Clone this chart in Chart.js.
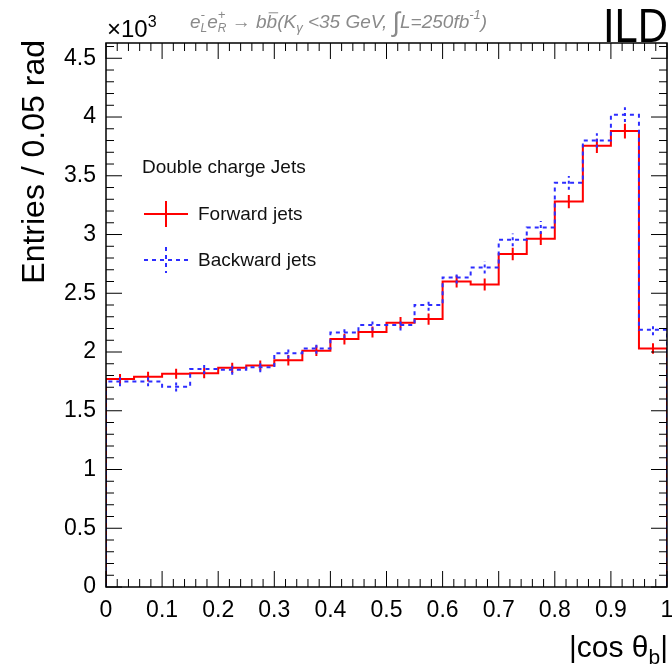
<!DOCTYPE html>
<html><head><meta charset="utf-8">
<script src="https://cdn.jsdelivr.net/npm/chart.js@4"></script>
<style>html,body{margin:0;padding:0;background:#fff;}canvas{display:block;}</style>
</head><body>
<canvas id="c" width="672" height="666"></canvas>
<script>
// ---- data (values in units of 10^3 entries) ----
const binEdges = [0,0.05,0.1,0.15,0.2,0.25,0.3,0.35,0.4,0.45,0.5,0.55,0.6,0.65,0.7,0.75,0.8,0.85,0.9,0.95,1];
const forwardJets  = [1.77,1.79,1.815,1.82,1.865,1.885,1.93,2.01,2.11,2.17,2.25,2.28,2.60,2.575,2.835,2.965,3.28,3.755,3.88,2.03];
const forwardErr   = [0.042,0.042,0.043,0.043,0.043,0.043,0.044,0.045,0.046,0.047,0.047,0.048,0.051,0.051,0.053,0.054,0.057,0.061,0.062,0.045];
const backwardJets = [1.75,1.75,1.705,1.855,1.85,1.87,1.99,2.03,2.165,2.23,2.23,2.40,2.635,2.72,2.955,3.06,3.44,3.80,4.02,2.19];
const backwardErr  = [0.042,0.042,0.041,0.043,0.043,0.043,0.045,0.045,0.047,0.047,0.047,0.049,0.051,0.052,0.054,0.055,0.059,0.062,0.063,0.047];
const xTicks = [0,0.1,0.2,0.3,0.4,0.5,0.6,0.7,0.8,0.9,1];
const xTickLabels = ['0','0.1','0.2','0.3','0.4','0.5','0.6','0.7','0.8','0.9','1'];
const yTicks = [0,0.5,1,1.5,2,2.5,3,3.5,4,4.5];
const yTickLabels = ['0','0.5','1','1.5','2','2.5','3','3.5','4','4.5'];
const yMax = 4.63;
const seriesNames = ['Forward jets','Backward jets'];
const legendTitle = 'Double charge Jets';

const FONT = '"Liberation Sans", Arial, Helvetica, sans-serif';
Chart.defaults.font.family = FONT;

function histPoints(vals){
  const pts=[{x:binEdges[0],y:0}];
  vals.forEach((v,i)=>{pts.push({x:binEdges[i],y:v});pts.push({x:binEdges[i+1],y:v});});
  pts.push({x:binEdges[binEdges.length-1],y:0});
  return pts;
}
function errPoints(vals,errs){
  const pts=[];
  vals.forEach((v,i)=>{const c=(binEdges[i]+binEdges[i+1])/2;
    pts.push({x:c,y:v-errs[i]});pts.push({x:c,y:v+errs[i]});pts.push({x:c,y:null});});
  return pts;
}
const RED='rgb(255,0,0)', BLUE='rgb(45,45,255)';

function rich(ctx,x,y,parts,color,italic,measureOnly){
  let cx=x;
  for(const p of parts){
    ctx.font=(italic?'italic ':'')+p.s+'px '+FONT;
    const w=ctx.measureText(p.t).width;
    if(!measureOnly){
      ctx.fillStyle=color; ctx.textAlign='left'; ctx.textBaseline='alphabetic';
      ctx.fillText(p.t,cx,y+(p.dy||0));
      if(p.over){ctx.strokeStyle=color;ctx.lineWidth=1;ctx.beginPath();ctx.moveTo(cx+2,y-p.s*0.8);ctx.lineTo(cx+w+1,y-p.s*0.8);ctx.stroke();}
    }
    if(!p.hold) cx+=w;
  }
  return cx-x;
}

const decor={
  id:'decor',
  afterDatasetsDraw(chart){
    const {ctx,chartArea:a,scales:{x,y}}=chart;
    ctx.save();
    // frame
    ctx.strokeStyle='#000'; ctx.lineWidth=1.5;
    ctx.strokeRect(a.left,a.top,a.right-a.left,a.bottom-a.top);
    ctx.lineWidth=1;
    ctx.beginPath();
    const seg=(x1,y1,x2,y2)=>{ctx.moveTo(x1,y1);ctx.lineTo(x2,y2);};
    for(let i=0;i<xTicks.length;i++){
      const px=x.getPixelForValue(xTicks[i]);
      seg(px,a.bottom,px,a.bottom-16); seg(px,a.top,px,a.top+16);
      if(i<xTicks.length-1){const st=(xTicks[i+1]-xTicks[i])/5;
        for(let k=1;k<5;k++){const q=x.getPixelForValue(xTicks[i]+k*st);seg(q,a.bottom,q,a.bottom-8);seg(q,a.top,q,a.top+8);}}
    }
    const yst=(yTicks[1]-yTicks[0])/5;
    for(let i=0;i<yTicks.length;i++){
      const py=y.getPixelForValue(yTicks[i]);
      seg(a.left,py,a.left+16,py); seg(a.right,py,a.right-16,py);
      for(let k=1;k<5;k++){const v=yTicks[i]+k*yst; if(v>yMax) break; const q=y.getPixelForValue(v);
        seg(a.left,q,a.left+8,q); seg(a.right,q,a.right-8,q);}
    }
    ctx.stroke();

    // y title
    ctx.save();
    ctx.translate(44,40); ctx.rotate(-Math.PI/2);
    ctx.font='32px '+FONT; ctx.fillStyle='#000'; ctx.textAlign='right'; ctx.textBaseline='alphabetic';
    ctx.fillText('Entries / 0.05 rad',0,0);
    ctx.restore();

    // x title
    const xt=[{t:'|cos θ',s:30},{t:'b',s:21,dy:7},{t:'|',s:30}];
    const w=rich(ctx,0,0,xt,'#000',false,true);
    rich(ctx,a.right+1-w,657,xt,'#000',false);

    // x10^3
    rich(ctx,107,37,[{t:'×10',s:24},{t:'3',s:16,dy:-10}],'#000',false);

    // ILD (slightly condensed)
    ctx.save();
    ctx.translate(668,42); ctx.scale(0.87,1);
    ctx.font='48px '+FONT; ctx.fillStyle='#000'; ctx.textAlign='right'; ctx.textBaseline='alphabetic';
    ctx.fillText('ILD',0,0);
    ctx.restore();

    // header
    rich(ctx,190,28,[
      {t:'e',s:19},{t:'-',s:13,dy:-9,hold:true},{t:'L',s:12,dy:4},
      {t:'e',s:19},{t:'+',s:13,dy:-9,hold:true},{t:'R',s:12,dy:4},
      {t:' → ',s:19},{t:'b',s:19},{t:'b',s:19,over:true},{t:'(K',s:19},{t:'γ',s:13,dy:4},
      {t:' <35 GeV, ',s:19},{t:'∫',s:27,dy:3},{t:'L=250fb',s:19},{t:'-1',s:13,dy:-9},{t:')',s:19}
    ],'#8a8a8a',true);

    // legend
    ctx.font='19px '+FONT; ctx.fillStyle='#111'; ctx.textAlign='left'; ctx.textBaseline='alphabetic';
    ctx.fillText(legendTitle,142,173);
    const ds=chart.data.datasets;
    const items=[{ds:ds[1],name:seriesNames[0],yc:214},{ds:ds[0],name:seriesNames[1],yc:260}];
    for(const it of items){
      ctx.save();
      ctx.strokeStyle=it.ds.borderColor; ctx.lineWidth=2; ctx.setLineDash(it.ds.borderDash||[]);
      ctx.beginPath(); ctx.moveTo(144,it.yc); ctx.lineTo(188,it.yc); ctx.moveTo(166,it.yc-13); ctx.lineTo(166,it.yc+13); ctx.stroke();
      ctx.restore();
      ctx.font='19px '+FONT; ctx.fillStyle='#111'; ctx.fillText(it.name,198,it.yc+6);
    }
    ctx.restore();
  }
};

new Chart(document.getElementById('c'),{
  type:'line',
  data:{datasets:[
    {label:seriesNames[1],data:histPoints(backwardJets),borderColor:BLUE,borderWidth:2,borderDash:[4,4],pointRadius:0,fill:false,tension:0,order:0},
    {label:seriesNames[0],data:histPoints(forwardJets),borderColor:RED,borderWidth:2,pointRadius:0,fill:false,tension:0,order:1},
    {label:'bwd err',data:errPoints(backwardJets,backwardErr),borderColor:BLUE,borderWidth:2,borderDash:[3,3],pointRadius:0,spanGaps:false,order:0},
    {label:'fwd err',data:errPoints(forwardJets,forwardErr),borderColor:RED,borderWidth:2,pointRadius:0,spanGaps:false,order:1}
  ]},
  options:{
    responsive:false,animation:false,devicePixelRatio:1,
    layout:{padding:{left:0,right:5,top:43,bottom:0}},
    plugins:{legend:{display:false},tooltip:{enabled:false}},
    scales:{
      x:{type:'linear',min:0,max:1,
        grid:{display:false,drawTicks:false},border:{display:false},
        afterBuildTicks:s=>{s.ticks=xTicks.map(v=>({value:v}));},
        ticks:{autoSkip:false,maxRotation:0,padding:10,color:'#000',font:{size:23},callback:(v,i)=>xTickLabels[i]},
        afterFit:s=>{s.height=79;s.paddingLeft=0;s.paddingRight=0;}},
      y:{type:'linear',min:0,max:yMax,
        grid:{display:false,drawTicks:false},border:{display:false},
        afterBuildTicks:s=>{s.ticks=yTicks.map(v=>({value:v}));},
        ticks:{autoSkip:false,padding:10,color:'#000',font:{size:23},callback:(v,i)=>yTickLabels[i]},
        afterFit:s=>{s.width=106;s.paddingTop=0;s.paddingBottom=0;}}
    }
  },
  plugins:[decor]
});
</script>
</body></html>
